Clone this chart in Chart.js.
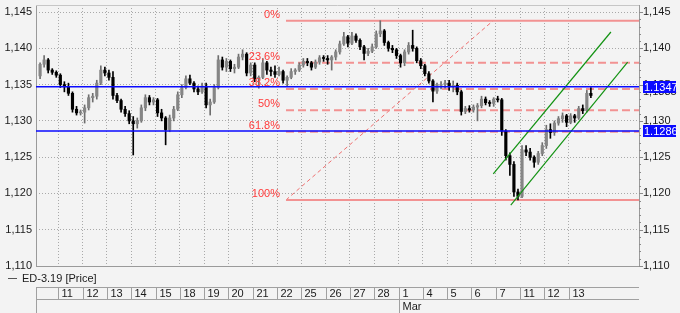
<!DOCTYPE html>
<html>
<head>
<meta charset="utf-8">
<script src="https://cdn.jsdelivr.net/npm/chart.js@4.4.0/dist/chart.umd.min.js"></script>
<style>
  html, body { margin: 0; padding: 0; background: #f3f3f3; }
</style>
</head>
<body>
<canvas id="priceChart" width="680" height="313"></canvas>
<script>
// trading days shown on the time axis (Feb 11 .. Mar 13, Mar 8 is a holiday)
const dayLabels = ['11','12','13','14','15','18','19','20','21','22','25','26','27','28','1','4','5','6','7','11','12','13'];
const monthStart = 14;  // index of "1" (March)
const monthName = 'Mar';
const seriesName = 'ED-3.19 [Price]';

const yTicks = [1.110, 1.115, 1.120, 1.125, 1.130, 1.135, 1.140, 1.145];

// candles, one line per trading day (first line = tail of Feb 8)
const opens = [
  1.1362, 1.1378, 1.1384, 1.1370, 1.1367,
  1.1363, 1.1350, 1.1347, 1.1338, 1.1316, 1.1311,
  1.1312, 1.1318, 1.1332, 1.1334, 1.1352, 1.1370,
  1.1366, 1.1360, 1.1335, 1.1328, 1.1316, 1.1310,
  1.1300, 1.1296, 1.1300, 1.1318, 1.1332, 1.1326,
  1.1329, 1.1311, 1.1304, 1.1288, 1.1304, 1.1316,
  1.1336, 1.1346, 1.1358, 1.1352, 1.1344, 1.1340,
  1.1348, 1.1322, 1.1326, 1.1346, 1.1384, 1.1374,
  1.1382, 1.1372, 1.1374, 1.1388, 1.1392, 1.1366,
  1.1377, 1.1358, 1.1360, 1.1380, 1.1370, 1.1368,
  1.1364, 1.1368, 1.1356, 1.1360, 1.1368, 1.1370,
  1.1377, 1.1382, 1.1380, 1.1374, 1.1381, 1.1387,
  1.1386, 1.1384, 1.1388, 1.1395, 1.1406, 1.1416,
  1.1407, 1.1417, 1.1411, 1.1402, 1.1393, 1.1396,
  1.1402, 1.1420, 1.1424, 1.1408, 1.1400, 1.1398,
  1.1390, 1.1380, 1.1395, 1.1404, 1.1400, 1.1383,
  1.1376, 1.1365, 1.1355, 1.1341, 1.1349, 1.1350,
  1.1352, 1.1347, 1.1349, 1.1340, 1.1313, 1.1317,
  1.1315, 1.1319, 1.1321, 1.1330, 1.1325, 1.1324,
  1.1330, 1.1329, 1.1286, 1.1252, 1.1240, 1.1202,
  1.1196, 1.1260, 1.1257, 1.1250, 1.1243, 1.1255,
  1.1266, 1.1288, 1.1284, 1.1297, 1.1303, 1.1307,
  1.1298, 1.1307, 1.1304, 1.1317, 1.1314, 1.1338
];
const highs = [
  1.1380, 1.1390, 1.1386, 1.1372, 1.1369,
  1.1365, 1.1354, 1.1352, 1.1340, 1.1320, 1.1315,
  1.1322, 1.1336, 1.1338, 1.1356, 1.1376, 1.1374,
  1.1370, 1.1368, 1.1338, 1.1330, 1.1320, 1.1314,
  1.1306, 1.1304, 1.1322, 1.1336, 1.1335, 1.1332,
  1.1331, 1.1316, 1.1306, 1.1308, 1.1320, 1.1340,
  1.1350, 1.1362, 1.1363, 1.1354, 1.1348, 1.1352,
  1.1352, 1.1330, 1.1350, 1.1390, 1.1388, 1.1386,
  1.1384, 1.1378, 1.1392, 1.1398, 1.1394, 1.1380,
  1.1380, 1.1362, 1.1386, 1.1382, 1.1374, 1.1376,
  1.1374, 1.1370, 1.1362, 1.1372, 1.1372, 1.1380,
  1.1386, 1.1386, 1.1382, 1.1384, 1.1390, 1.1390,
  1.1390, 1.1390, 1.1398, 1.1410, 1.1422, 1.1418,
  1.1422, 1.1420, 1.1413, 1.1404, 1.1400, 1.1406,
  1.1424, 1.1438, 1.1426, 1.1410, 1.1404, 1.1400,
  1.1392, 1.1398, 1.1408, 1.1425, 1.1402, 1.1386,
  1.1378, 1.1368, 1.1357, 1.1352, 1.1354, 1.1356,
  1.1356, 1.1355, 1.1352, 1.1342, 1.1320, 1.1321,
  1.1322, 1.1324, 1.1334, 1.1333, 1.1328, 1.1332,
  1.1334, 1.1331, 1.1288, 1.1256, 1.1244, 1.1206,
  1.1266, 1.1266, 1.1262, 1.1252, 1.1258, 1.1270,
  1.1294, 1.1296, 1.1300, 1.1306, 1.1311, 1.1309,
  1.1310, 1.1309, 1.1320, 1.1322, 1.1342, 1.1346
];
const lows = [
  1.1358, 1.1374, 1.1366, 1.1364, 1.1360,
  1.1346, 1.1340, 1.1335, 1.1312, 1.1308, 1.1308,
  1.1297, 1.1315, 1.1326, 1.1330, 1.1350, 1.1362,
  1.1356, 1.1330, 1.1325, 1.1312, 1.1306, 1.1296,
  1.1253, 1.1290, 1.1298, 1.1314, 1.1322, 1.1322,
  1.1306, 1.1300, 1.1267, 1.1285, 1.1300, 1.1314,
  1.1332, 1.1344, 1.1350, 1.1340, 1.1336, 1.1338,
  1.1318, 1.1308, 1.1324, 1.1344, 1.1370, 1.1368,
  1.1368, 1.1366, 1.1372, 1.1384, 1.1362, 1.1362,
  1.1354, 1.1345, 1.1358, 1.1364, 1.1362, 1.1360,
  1.1362, 1.1352, 1.1348, 1.1358, 1.1364, 1.1368,
  1.1374, 1.1376, 1.1370, 1.1372, 1.1378, 1.1382,
  1.1378, 1.1370, 1.1384, 1.1392, 1.1404, 1.1402,
  1.1405, 1.1408, 1.1398, 1.1384, 1.1390, 1.1394,
  1.1400, 1.1416, 1.1404, 1.1396, 1.1394, 1.1386,
  1.1374, 1.1376, 1.1392, 1.1396, 1.1380, 1.1372,
  1.1362, 1.1352, 1.1326, 1.1338, 1.1344, 1.1345,
  1.1342, 1.1340, 1.1336, 1.1308, 1.1310, 1.1312,
  1.1312, 1.1300, 1.1318, 1.1322, 1.1320, 1.1320,
  1.1326, 1.1280, 1.1246, 1.1225, 1.1196, 1.1191,
  1.1194, 1.1252, 1.1246, 1.1236, 1.1240, 1.1252,
  1.1262, 1.1276, 1.1280, 1.1294, 1.1298, 1.1292,
  1.1296, 1.1298, 1.1302, 1.1310, 1.1312, 1.1332
];
const closes = [
  1.1378, 1.1384, 1.1370, 1.1367, 1.1363,
  1.1350, 1.1347, 1.1338, 1.1316, 1.1311, 1.1312,
  1.1318, 1.1332, 1.1334, 1.1352, 1.1370, 1.1366,
  1.1360, 1.1335, 1.1328, 1.1316, 1.1310, 1.1300,
  1.1296, 1.1300, 1.1318, 1.1332, 1.1326, 1.1329,
  1.1311, 1.1304, 1.1288, 1.1304, 1.1316, 1.1336,
  1.1346, 1.1358, 1.1352, 1.1344, 1.1340, 1.1348,
  1.1322, 1.1326, 1.1346, 1.1384, 1.1374, 1.1382,
  1.1372, 1.1374, 1.1388, 1.1392, 1.1366, 1.1377,
  1.1358, 1.1360, 1.1380, 1.1370, 1.1368, 1.1364,
  1.1368, 1.1356, 1.1360, 1.1368, 1.1370, 1.1377,
  1.1382, 1.1380, 1.1374, 1.1381, 1.1387, 1.1386,
  1.1384, 1.1388, 1.1395, 1.1406, 1.1416, 1.1407,
  1.1417, 1.1411, 1.1402, 1.1393, 1.1396, 1.1402,
  1.1420, 1.1424, 1.1408, 1.1400, 1.1398, 1.1390,
  1.1380, 1.1395, 1.1404, 1.1400, 1.1383, 1.1376,
  1.1365, 1.1355, 1.1341, 1.1349, 1.1350, 1.1352,
  1.1347, 1.1349, 1.1340, 1.1313, 1.1317, 1.1315,
  1.1319, 1.1321, 1.1330, 1.1325, 1.1324, 1.1330,
  1.1329, 1.1286, 1.1252, 1.1240, 1.1202, 1.1196,
  1.1260, 1.1257, 1.1250, 1.1243, 1.1255, 1.1266,
  1.1288, 1.1284, 1.1297, 1.1303, 1.1307, 1.1298,
  1.1307, 1.1304, 1.1317, 1.1314, 1.1338, 1.1335
];

// drawing tools (x in trading-day units, y in price)
const fibLabels = ['0%', '23.6%', '38.2%', '50%', '61.8%', '100%'];
const fibPrices = [1.1438, 1.1380, 1.1344, 1.13145, 1.1285, 1.1191];
const fibStartX = 9.37;
const fibTrend = [{ x: 9.37, y: 1.1191 }, { x: 17.89, y: 1.1438 }];
const channelUpper = [{ x: 17.90, y: 1.1227 }, { x: 22.74, y: 1.14225 }];
const channelLower = [{ x: 18.62, y: 1.1184 }, { x: 23.43, y: 1.1381 }];
const blueLevels = [1.1347, 1.1286];

const barsPerDay = 6;
const firstSlot = 1; // Feb 8 session is cut by the left edge
const xMin = -0.918, xMax = 23.897;

const FONT = '11px "Liberation Sans", Arial, sans-serif';
const gridColor = '#a9a9a9';

const times = opens.map((_, i) => (i + firstSlot + 0.5) / barsPerDay - 1);
const isUp = i => closes[i] >= opens[i];

function lineDs(points, color, width, dash, order) {
    return {
        type: 'line', data: points, borderColor: color, borderWidth: width,
        borderDash: dash || [], pointRadius: 0, fill: false, tension: 0, order: order
    };
}

const datasets = [];
fibPrices.forEach((p, i) => {
    const solid = (i == 0 || i == fibPrices.length - 1);
    datasets.push(lineDs([{ x: fibStartX, y: p }, { x: xMax, y: p }], '#f29292', 2, solid ? [] : [8, 4], 3));
});
datasets.push(lineDs(fibTrend, '#f07070', 1, [4, 3], 3));
blueLevels.forEach(p => {
    datasets.push(lineDs([{ x: xMin, y: p }, { x: xMax, y: p }], '#0a0aff', 1.6, [], 0));
});
datasets.push(lineDs(channelUpper, '#139313', 1.2, [], 0));
datasets.push(lineDs(channelLower, '#139313', 1.2, [], 0));

// wicks
datasets.push({
    type: 'bar', order: 2, grouped: false, barThickness: 1,
    data: times.map((t, i) => ({ x: t, y: [lows[i], highs[i]] })),
    backgroundColor: ctx => isUp(ctx.dataIndex) ? '#6e6e6e' : '#000000'
});
// bodies
datasets.push({
    type: 'bar', order: 1, grouped: false, barThickness: 2.5, minBarLength: 1,
    data: times.map((t, i) => ({ x: t, y: [opens[i], closes[i]] })),
    backgroundColor: ctx => isUp(ctx.dataIndex) ? '#858585' : '#000000'
});

const decor = {
    id: 'decor',
    beforeDraw(chart) {
        const c = chart.ctx;
        c.save();
        c.fillStyle = '#f3f3f3';
        c.fillRect(0, 0, chart.width, chart.height);
        c.restore();
    },
    afterDatasetsDraw(chart) {
        const c = chart.ctx, xs = chart.scales.x, ys = chart.scales.y;
        c.save();
        c.font = FONT;
        c.fillStyle = '#ff3a3a';
        c.textAlign = 'right';
        c.textBaseline = 'middle';
        const lx = xs.getPixelForValue(fibStartX) - 6;
        fibLabels.forEach((t, i) => {
            c.fillText(t, lx, ys.getPixelForValue(fibPrices[i]) - 6);
        });
        c.restore();
    },
    afterDraw(chart) {
        const c = chart.ctx, xs = chart.scales.x, ys = chart.scales.y;
        const a = chart.chartArea;
        c.save();
        c.lineWidth = 1;

        // top frame line
        c.strokeStyle = '#c6c6c6';
        c.beginPath(); c.moveTo(a.left, a.top + 0.5); c.lineTo(a.right, a.top + 0.5); c.stroke();

        // small ticks on the right axis
        c.strokeStyle = '#8a8a8a';
        for (let k = 0; k <= 35; k++) {
            const py = Math.round(ys.getPixelForValue(1.110 + k * 0.001)) + 0.5;
            const len = (k % 5 == 0) ? 4 : 2;
            c.beginPath(); c.moveTo(a.right, py); c.lineTo(a.right + len, py); c.stroke();
        }

        // last price label (partly under the blue box)
        c.font = FONT;
        c.textAlign = 'left';
        c.textBaseline = 'bottom';
        c.fillStyle = '#222';
        const lastY = ys.getPixelForValue(closes[closes.length - 1]);
        c.fillText(closes[closes.length - 1].toFixed(4).replace('.', ','), a.right + 4, lastY + 2);

        // blue level boxes
        c.textBaseline = 'middle';
        blueLevels.forEach(p => {
            const py = Math.round(ys.getPixelForValue(p));
            c.fillStyle = '#0a0aff';
            c.fillRect(a.right + 4, py - 6, 33, 12);
            c.fillStyle = '#ffffff';
            c.fillText(p.toFixed(4), a.right + 5, py + 0.5);
        });

        // legend line
        c.strokeStyle = '#555';
        c.beginPath(); c.moveTo(8, 278.5); c.lineTo(17, 278.5); c.stroke();
        c.fillStyle = '#1a1a1a';
        c.fillText(seriesName, 22, 278.5);

        // date table
        const top = 287, mid = 299, bottom = 313;
        c.strokeStyle = '#a0a0a0';
        c.beginPath();
        c.moveTo(a.left, top + 0.5); c.lineTo(a.right, top + 0.5);
        c.moveTo(a.left, mid + 0.5); c.lineTo(a.right, mid + 0.5);
        c.moveTo(a.left + 0.5, top); c.lineTo(a.left + 0.5, bottom);
        c.stroke();
        dayLabels.forEach((t, i) => {
            const gx = Math.round(xs.getPixelForValue(i)) + 0.5;
            c.strokeStyle = '#a0a0a0';
            c.beginPath(); c.moveTo(gx, top); c.lineTo(gx, mid); c.stroke();
            if (i == monthStart) {
                c.beginPath(); c.moveTo(gx, mid); c.lineTo(gx, bottom); c.stroke();
                c.fillStyle = '#1a1a1a';
                c.fillText(monthName, gx + 3, 306.5);
            }
            c.fillStyle = '#1a1a1a';
            c.fillText(t, gx + 3, 293.5);
        });
        c.restore();
    }
};

const tickFont = { family: '"Liberation Sans", Arial, sans-serif', size: 11 };
const fmt = v => Number(v).toFixed(3).replace('.', ',');
const yTickList = s => { s.ticks = yTicks.map(v => ({ value: v })); };
// fixed axis sizes, no extra room for half labels
const fixSize = (w) => s => { s.width = w; s.paddingTop = 0; s.paddingBottom = 0; };

var priceChart = new Chart(document.getElementById('priceChart').getContext('2d'), {
    type: 'bar',
    data: { datasets: datasets },
    options: {
        responsive: false,
        animation: false,
        devicePixelRatio: 1,
        layout: { padding: { top: 5, left: 0, right: 0, bottom: 0 } },
        plugins: { legend: { display: false }, tooltip: { enabled: false } },
        scales: {
            x: {
                type: 'linear', position: 'bottom', min: xMin, max: xMax, offset: false,
                afterBuildTicks: s => { s.ticks = dayLabels.map((_, i) => ({ value: i })); },
                afterFit: s => { s.height = 47; s.paddingLeft = 0; s.paddingRight = 0; },
                ticks: { display: false },
                grid: { color: gridColor, offset: false, drawTicks: false },
                border: { display: true, color: '#9a9a9a', dash: [1, 2] }
            },
            y: {
                type: 'linear', position: 'right', min: 1.110, max: 1.14597, beginAtZero: false,
                afterBuildTicks: yTickList,
                afterFit: fixSize(41),
                ticks: { padding: 4, font: tickFont, color: '#1a1a1a', callback: fmt },
                grid: { color: gridColor, drawTicks: false },
                border: { display: true, color: '#9a9a9a', dash: [1, 2] }
            },
            yL: {
                type: 'linear', position: 'left', min: 1.110, max: 1.14597, beginAtZero: false,
                afterBuildTicks: yTickList,
                afterFit: fixSize(36),
                ticks: { padding: 4, font: tickFont, color: '#1a1a1a', callback: fmt },
                grid: { display: false, drawTicks: false },
                border: { display: true, color: '#9a9a9a' }
            }
        }
    },
    plugins: [decor]
});
</script>
</body>
</html>
